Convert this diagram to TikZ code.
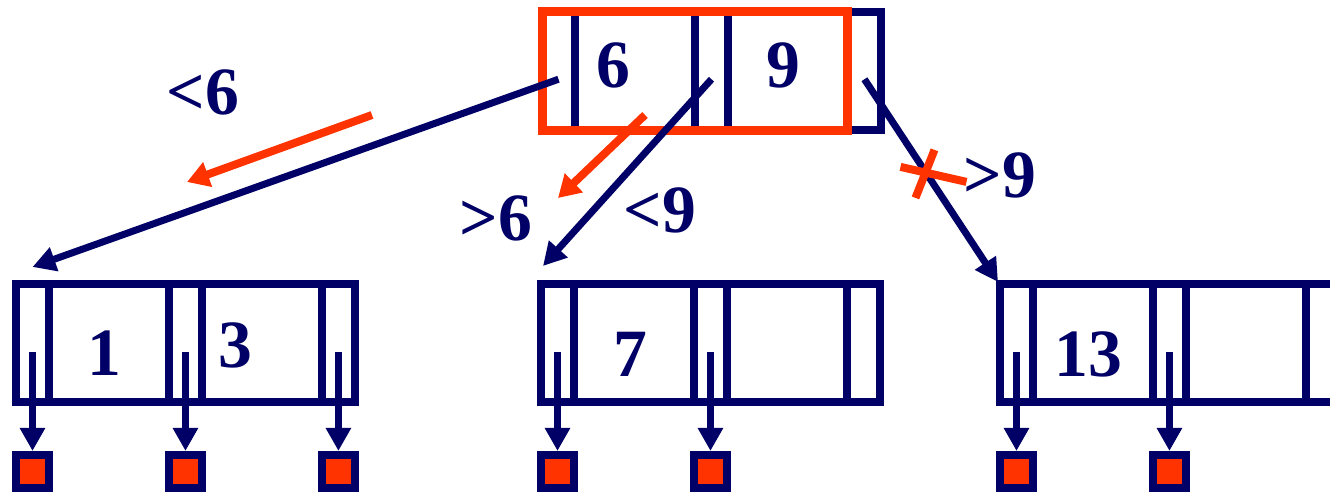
\documentclass[tikz,border=0pt]{standalone}
\usepackage{fontspec}
\setmainfont{Liberation Serif}
\usepackage{xcolor}
\usetikzlibrary{arrows.meta, positioning, calc, fit}
\definecolor{biru}{RGB}{0,0,102}
\definecolor{jingga}{RGB}{255,51,0}

\begin{document}
\begin{tikzpicture}[
    x=0.02cm, y=-0.02cm,
    font=\fontsize{38.5}{40}\selectfont\bfseries,
    sel/.style={draw=biru, line width=1.6mm, outer sep=0pt, inner sep=0pt,
                minimum height=2.37cm},
    penunjuk/.style={sel, minimum width=0.66cm},
    kunci/.style={sel, minimum width=2.4cm},
    data/.style={draw=biru, fill=jingga, line width=1.6mm, inner sep=0pt,
                 minimum size=0.66cm},
    angka/.style={text=biru, inner sep=0pt},
    sorot/.style={draw=jingga, line width=1.8mm, inner sep=0pt},
    garis/.style={biru, line width=1.4mm, -{Triangle[length=4.6mm, width=4.8mm]}},
    jejak/.style={jingga, line width=1.6mm, -{Triangle[length=4.4mm, width=5mm]}},
    silang/.style={jingga, line width=1.6mm}
  ]
    \useasboundingbox (0,0) rectangle (1330,492);
    \clip (0,0) rectangle (1330,492);
    % simpul: penunjuk | kunci | penunjuk | kunci | penunjuk
    \foreach \nm/\x/\y in {root/542/12, leafA/16/284, leafB/541/284, leafC/1000/284} {
      \node[penunjuk, anchor=north west] (\nm-p1) at (\x,\y) {};
      \node[kunci, right=0pt of \nm-p1] (\nm-k1) {};
      \node[penunjuk, right=0pt of \nm-k1] (\nm-p2) {};
      \node[kunci, right=0pt of \nm-p2] (\nm-k2) {};
      \node[penunjuk, right=0pt of \nm-k2] (\nm-p3) {};
    }
    \node[sorot, fit=(root-p1)(root-k2)] (pilih) {};
    % isi kunci
    \foreach \t/\x/\y in {6/613/65, 9/783/65, 1/104/353, 3/235/345, 7/630/354, 13/1088/354}
      \node[angka] (key\t) at (\x,\y) {\t};
    % penunjuk ke data
    \foreach \nm/\i in {leafA/1, leafA/2, leafA/3, leafB/1, leafB/2, leafC/1, leafC/2} {
      \node[data, below=0.97cm of \nm-p\i] (\nm-d\i) {};
      \draw[garis] ([yshift=-0.18cm]\nm-p\i.center) -- (\nm-d\i.north);
    }
    % penunjuk akar
    \draw[garis] ([yshift=-0.16cm]root-p1.center) -- ($(leafA-p1.north)+(0,-17)$);
    \draw[garis] ([yshift=-0.16cm]root-p2.center) -- ($(leafB-p1.north west)+(2,-18)$);
    \draw[garis] ([yshift=-0.16cm]root-p3.center) -- ($(leafC-p1.north west)+(-2,-2)$)
      coordinate[pos=0.457] (potong);
    \draw[silang] ($(potong)+(-25,-5)$) -- ($(potong)+(41,10)$);
    \draw[silang] ($(potong)+(9,-22)$) -- ($(potong)+(-10,26)$);
    % jalur pencarian
    \coordinate (j1a) at (372,115);
    \coordinate (j1b) at (187,182);
    \coordinate (j2a) at (645,115);
    \coordinate (j2b) at (558,198);
    \draw[jejak] (j1a) -- (j1b);
    \draw[jejak] (j2a) -- (j2b);
    % label cabang
    \node[angka] (lt6) at (203,92) {<6};
    \node[angka] (gt6) at (496,218) {>6};
    \node[angka] (lt9) at (660,210) {<9};
    \node[angka] (gt9) at (1000,175) {>9};
  \end{tikzpicture}
\end{document}
